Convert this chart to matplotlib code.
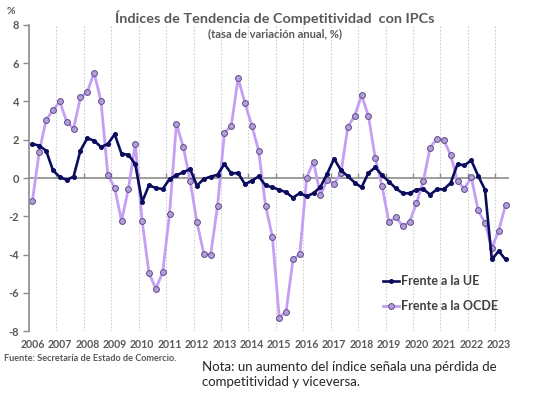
import matplotlib
matplotlib.use("Agg")
import matplotlib.pyplot as plt
import numpy as np

plt.rcParams['font.family'] = ['Lato', 'DejaVu Sans']

years = list(range(2006, 2024))
quarters = [f"{y}T{q}" for y in range(2006, 2024) for q in range(1, 5)][:70]

frente_ue = [1.78, 1.69, 1.43, 0.40, 0.05, -0.10, 0.07, 1.43,
             2.08, 1.95, 1.62, 1.78, 2.29, 1.26, 1.22, 0.72,
             -1.25, -0.38, -0.52, -0.58, -0.05, 0.14, 0.30, 0.47,
             -0.40, -0.05, 0.07, 0.17, 0.73, 0.24, 0.26, -0.33,
             -0.14, 0.08, -0.38, -0.49, -0.61, -0.75, -1.03, -0.79,
             -0.96, -0.79, -0.47, 0.23, 1.01, 0.40, 0.09, -0.24,
             -0.49, 0.26, 0.56, 0.14, -0.19, -0.54, -0.80, -0.80,
             -0.61, -0.58, -0.87, -0.59, -0.59, -0.26, 0.73, 0.66,
             0.92, 0.12, -0.61, -4.26, -3.82, -4.26]

frente_ocde = [-1.19, 1.38, 3.05, 3.53, 4.00, 2.93, 2.58, 4.21,
               4.50, 5.50, 4.03, 0.17, -0.52, -2.25, -0.56, 1.78,
               -2.25, -4.97, -5.78, -4.94, -1.87, 2.83, 1.62, -0.14,
               -2.32, -3.96, -4.00, -1.45, 2.36, 2.74, 5.22, 3.91,
               2.74, 1.42, -1.45, -3.07, -7.30, -6.98, -4.26, -3.98,
               0.02, 0.86, -0.91, -0.09, -0.30, 0.26, 2.67, 3.25,
               4.33, 3.25, 1.04, -0.44, -2.32, -2.04, -2.51, -2.29,
               -1.33, -0.17, 1.59, 2.06, 1.97, 1.20, -0.17, -0.56,
               0.05, -1.68, -2.36, -3.66, -2.76, -1.40]

y_ticks = [-8, -6, -4, -2, 0, 2, 4, 6, 8]

gray = '#595959'
navy = '#0c0c5e'
lav_line = '#c59ef5'
lav_face = '#b39ddb'
lav_edge = '#5b4a85'

fig = plt.figure(figsize=(5.5, 4.13), dpi=100)
ax = fig.add_axes([0.0527, 0.1985, 0.8727, 0.741])

x = np.arange(len(quarters))

# vertical dotted gridlines at year boundaries
for k in range(1, len(years)):
    ax.axvline(-0.5 + 4 * k, color='#d0d0d0', lw=0.8, ls=(0, (1.5, 1.5)), zorder=0)

ax.axhline(0, color='#8c8c8c', lw=1.2, zorder=1)
ax.vlines([-0.5 + 4 * k for k in range(1, len(years))], 0, 0.28,
          color='#8c8c8c', lw=1.0, zorder=1)

ax.plot(x, frente_ocde, color=lav_line, lw=2.0, marker='o', ms=4.2,
        mfc=lav_face, mec=lav_edge, mew=0.7, label='Frente a la OCDE', zorder=2)
ax.plot(x, frente_ue, color=navy, lw=1.9, marker='o', ms=2.6,
        mfc=navy, mec=navy, label='Frente a la UE', zorder=3)

ax.set_xlim(-0.5, len(quarters) - 0.5)
ax.set_ylim(-8, 8)
ax.set_yticks(y_ticks)
ax.set_yticklabels([str(v) for v in y_ticks], fontsize=8, fontweight='bold', color=gray)
ax.set_xticks([4 * i for i in range(len(years))])
ax.set_xticklabels([str(y) for y in years], fontsize=7.6, fontweight='bold', color=gray)
ax.tick_params(axis='x', length=0, pad=6)
ax.tick_params(axis='y', length=4, color='#8c8c8c', width=1, pad=3)

for s in ['top', 'right', 'bottom']:
    ax.spines[s].set_visible(False)
ax.spines['left'].set_color('#8c8c8c')
ax.spines['left'].set_linewidth(1.2)

handles, labels = ax.get_legend_handles_labels()
leg = ax.legend(handles[::-1], labels[::-1], loc='lower right',
                bbox_to_anchor=(1.0, 0.025), frameon=False,
                prop={'size': 9, 'weight': 'bold'}, handlelength=1.3,
                handletextpad=0.1, labelspacing=1.05, labelcolor='#404040')

fig.text(0.5, 0.958, 'Índices de Tendencia de Competitividad  con IPCs',
         ha='center', va='center', fontsize=10.4, fontweight='bold', color=gray)
fig.text(0.5, 0.918, '(tasa de variación anual, %)',
         ha='center', va='center', fontsize=8.0, fontweight='bold', color=gray)
fig.text(0.012, 0.972, '%', ha='left', va='center', fontsize=7.5,
         fontweight='bold', color=gray)
fig.text(0.008, 0.131, 'Fuente: Secretaría de Estado de Comercio.', ha='left',
         va='center', fontsize=6.6, fontweight='bold', color=gray)
fig.text(0.367, 0.093, 'Nota: un aumento del índice señala una pérdida de\ncompetitividad y viceversa.',
         ha='left', va='center', fontsize=9.5, color='#262626', linespacing=1.35)

fig.savefig('out.png', dpi=100)
